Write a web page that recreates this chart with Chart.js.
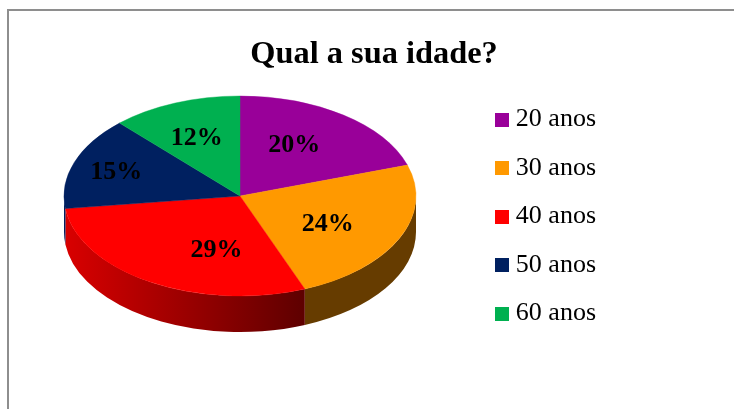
<!DOCTYPE html>
<html><head><meta charset="utf-8">
<style>
html,body{margin:0;padding:0;background:#fff;width:734px;height:409px;overflow:hidden}
#frame{position:absolute;left:7px;top:9px;width:740px;height:420px;border:2px solid #8e8e8e;box-sizing:border-box}
#wrap{position:absolute;left:14px;top:0;width:720px;height:409px}
</style>
<script src="https://cdn.jsdelivr.net/npm/chart.js@4/dist/chart.umd.min.js"></script>
</head><body>
<div id="frame"></div>
<div id="wrap"><canvas id="c"></canvas></div>
<script>
const categories = ['20 anos','30 anos','40 anos','50 anos','60 anos'];
const values = [20,24,29,15,12];
const sliceColors = ['#990099','#ff9900','#ff0000','#002060','#00b050'];
const titleText = 'Qual a sua idade?';

const SERIF = '"Liberation Serif", serif';
const canvasLeft = 14;
const ellipse = {cx:240-canvasLeft, cy:196, rx:176, ry:100, depth:36};
const labelNudge = [[-10,-1],[-11,2],[32,1],[-21,-3],[-3,0]];

const pie3d = {
  id:'pie3d',
  beforeDatasetsDraw(chart){
    const ctx = chart.ctx, arcs = chart.getDatasetMeta(0).data, e = ellipse;
    const grad = ctx.createLinearGradient(e.cx-173,0,e.cx+68,0);
    grad.addColorStop(0,'#d80000'); grad.addColorStop(1,'#5c0000');
    const walls = ['#4d004d','#663c00',grad,'#002060','#00b050'];
    arcs.forEach((a,i)=>{
      const s = Math.max(a.startAngle,0), t = Math.min(a.endAngle,Math.PI);
      if (t<=s) return;
      ctx.beginPath();
      ctx.ellipse(e.cx,e.cy,e.rx,e.ry,0,s,t,false);
      ctx.ellipse(e.cx,e.cy+e.depth,e.rx,e.ry,0,t,s,true);
      ctx.closePath();
      ctx.fillStyle = walls[i];
      ctx.fill();
    });
    const a0 = arcs[0];
    ctx.save();
    ctx.translate(e.cx,e.cy);
    ctx.scale(e.rx/a0.outerRadius,e.ry/a0.outerRadius);
    ctx.translate(-a0.x,-a0.y);
  },
  afterDatasetsDraw(chart){
    const ctx = chart.ctx, arcs = chart.getDatasetMeta(0).data, e = ellipse;
    ctx.restore();
    ctx.save();
    ctx.fillStyle='#000';
    ctx.font='bold 26px '+SERIF;
    ctx.textAlign='center'; ctx.textBaseline='middle';
    arcs.forEach((a,i)=>{
      const mid=(a.startAngle+a.endAngle)/2;
      const x=e.cx+Math.cos(mid)*e.rx*0.62+labelNudge[i][0];
      const y=e.cy+Math.sin(mid)*e.ry*0.62+labelNudge[i][1];
      ctx.fillText(values[i]+'%',x,y);
    });
    ctx.restore();
  },
  afterDraw(chart){
    const ctx=chart.ctx, lg=chart.legend;
    lg.legendHitBoxes.forEach((b,i)=>{
      ctx.fillStyle=sliceColors[i];
      ctx.fillRect(Math.round(b.left-6.5),Math.round(b.top+b.height/2-7),14,14);
    });
  }
};

new Chart(document.getElementById('c'),{
  type:'pie',
  data:{labels:categories,datasets:[{data:values,backgroundColor:sliceColors,borderColor:sliceColors,borderWidth:0.5,clip:false}]},
  plugins:[pie3d],
  options:{
    responsive:true,maintainAspectRatio:false,animation:false,
    layout:{padding:{left:128,right:128,top:24,bottom:0}},
    plugins:{
      tooltip:{enabled:false},
      title:{display:true,text:titleText,color:'#000',font:{family:SERIF,size:32.4,weight:'bold'},padding:{top:11,bottom:10}},
      legend:{display:true,position:'right',
        labels:{boxWidth:1,boxHeight:1,padding:22.5,color:'#000',font:{family:SERIF,size:26}}}
    }
  }
});
</script>
</body></html>
